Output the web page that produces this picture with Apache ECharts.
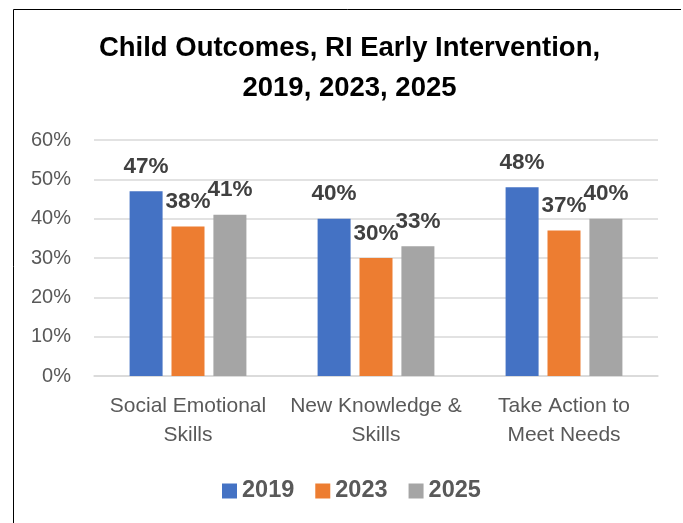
<!DOCTYPE html>
<html>
<head>
<meta charset="utf-8">
<script src="https://cdn.jsdelivr.net/npm/echarts@6/dist/echarts.min.js"></script>
<style>
  html, body { margin: 0; padding: 0; background: #fff; }
  #chart { width: 683px; height: 523px; }
</style>
</head>
<body>
<div id="chart"></div>
<script>
// data
const categories = ['Social Emotional\nSkills', 'New Knowledge &\nSkills', 'Take Action to\nMeet Needs'];
const years = ['2019', '2023', '2025'];
const values2019 = [47, 40, 48];
const values2023 = [38, 30, 37];
const values2025 = [41, 33, 40];
const colors = ['#4472C4', '#ED7D31', '#A5A5A5'];

const font = "'Liberation Sans', Arial, sans-serif";
let myChart = echarts.init(document.getElementById('chart'));

function makeSeries(name, data, color) {
    return {
        name: name,
        type: 'bar',
        data: data,
        barWidth: 33,
        barGap: '27%',
        itemStyle: { color: color },
        label: {
            show: true,
            position: 'top',
            distance: 13,
            formatter: '{c}%',
            color: '#404040',
            fontFamily: font,
            fontWeight: 'bold',
            fontSize: 22.5
        }
    };
}

let option = {
    animation: false,
    backgroundColor: '#fff',
    textStyle: { fontFamily: font },
    title: {
        text: 'Child Outcomes, RI Early Intervention,\n2019, 2023, 2025',
        left: 349.5,
        top: 28,
        textAlign: 'center',
        padding: 0,
        textStyle: {
            fontFamily: font,
            fontWeight: 'bold',
            fontSize: 27.5,
            lineHeight: 40,
            color: '#000'
        }
    },
    legend: {
        data: years,
        left: 222,
        top: 479,
        padding: 0,
        icon: 'rect',
        itemWidth: 15,
        itemHeight: 15,
        itemGap: 21,
        textStyle: {
            fontFamily: font,
            fontWeight: 'bold',
            fontSize: 23.5,
            color: '#595959'
        }
    },
    grid: { left: 94, right: 25, top: 140, bottom: 147, containLabel: false },
    xAxis: {
        type: 'category',
        data: categories,
        axisTick: { show: false },
        axisLine: { lineStyle: { color: '#D9D9D9', width: 1.5 } },
        axisLabel: {
            margin: 15,
            interval: 0,
            fontSize: 21,
            lineHeight: 29.5,
            color: '#595959',
            fontFamily: font
        }
    },
    yAxis: {
        type: 'value',
        min: 0,
        max: 60,
        interval: 10,
        axisLine: { show: false },
        axisTick: { show: false },
        splitLine: { lineStyle: { color: '#D9D9D9', width: 1.5 } },
        axisLabel: {
            formatter: '{value}%',
            margin: 23,
            fontSize: 20,
            color: '#595959',
            fontFamily: font
        }
    },
    graphic: [{
        type: 'polyline',
        shape: { points: [[13.5, 523], [13.5, 9.5], [681, 9.5]] },
        style: { stroke: '#000', lineWidth: 1, fill: null }
    }],
    series: [
        makeSeries(years[0], values2019, colors[0]),
        makeSeries(years[1], values2023, colors[1]),
        makeSeries(years[2], values2025, colors[2])
    ]
};

myChart.setOption(option);
</script>
</body>
</html>
